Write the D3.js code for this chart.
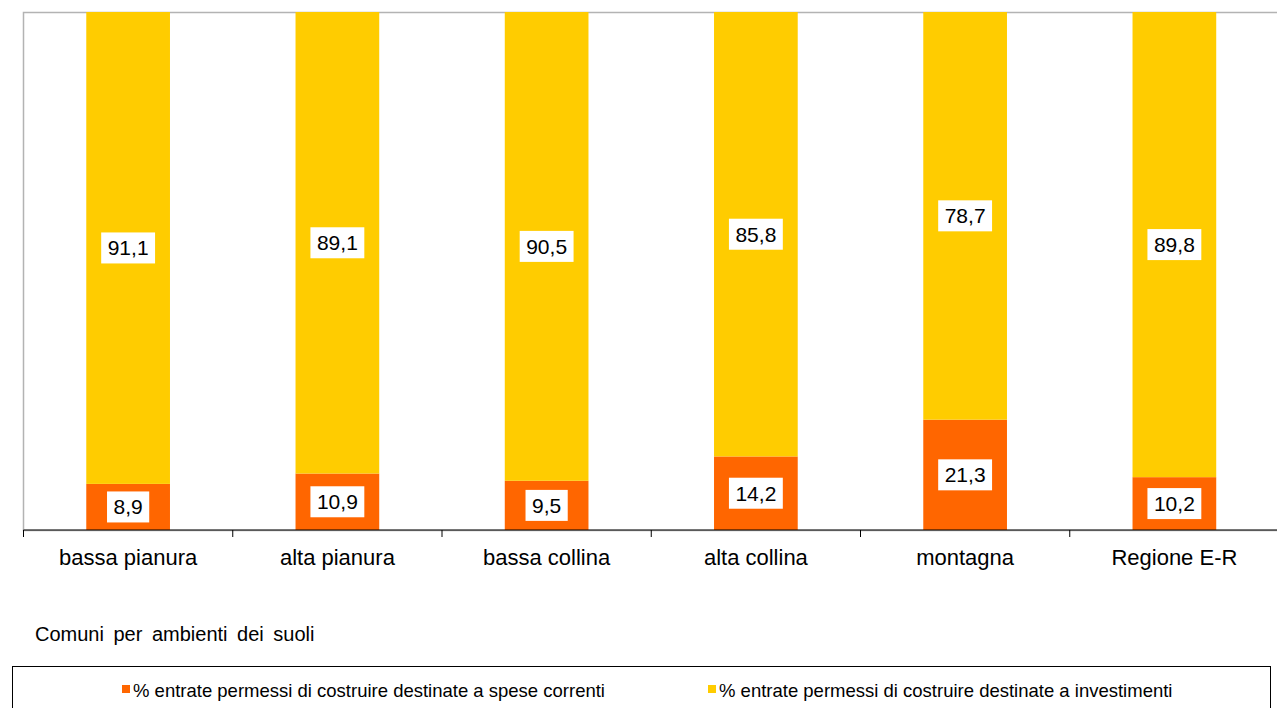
<!DOCTYPE html>
<html><head><meta charset="utf-8">
<script src="https://cdn.jsdelivr.net/npm/d3@7"></script>
<style>html,body{margin:0;padding:0;background:#fff;overflow:hidden}</style>
</head><body>
<svg id="c" width="1277" height="708"></svg>
<script>
const categories = ["bassa pianura","alta pianura","bassa collina","alta collina","montagna","Regione E-R"];
const speseCorrenti = [8.9, 10.9, 9.5, 14.2, 21.3, 10.2];
const investimenti = [91.1, 89.1, 90.5, 85.8, 78.7, 89.8];
const seriesNames = ["% entrate permessi di costruire destinate a spese correnti","% entrate permessi di costruire destinate a investimenti"];
const colors = ["#FF6600","#FFCC00"];
const xTitle = "Comuni per ambienti dei suoli";

(function(){
const svg = d3.select("#c");
const font = "Liberation Sans, Arial, sans-serif";
const pLeft = 23.5, pRight = 1279, pTop = 12, pBottom = 530;

const x = d3.scaleBand().domain(categories).range([pLeft, pRight]).padding(0);
const y = d3.scaleLinear().domain([0, 100]).range([pBottom, pTop]);
const bw = x.bandwidth() * 0.40;

// plot border
svg.append("rect").attr("x", pLeft).attr("y", pTop + 0.5).attr("width", pRight - pLeft).attr("height", pBottom - pTop)
  .attr("fill", "none").attr("stroke", "#b3b3b3").attr("stroke-width", 1.5);

const rows = categories.map((c, i) => ({cat: c, s0: speseCorrenti[i], s1: investimenti[i]}));
const stack = d3.stack().keys(["s0", "s1"])(rows);

const g = svg.append("g");
stack.forEach((layer, li) => {
  g.selectAll(null).data(layer).enter().append("rect")
    .attr("x", d => x(d.data.cat) + (x.bandwidth() - bw) / 2)
    .attr("width", bw)
    .attr("y", d => y(d[1]))
    .attr("height", d => y(d[0]) - y(d[1]))
    .attr("fill", colors[li]);
});

// axis
const axis = svg.append("g").attr("transform", `translate(0,${pBottom})`)
  .call(d3.axisBottom(x).tickSize(0).tickPadding(19));
axis.select(".domain").attr("stroke", "#000").attr("stroke-width", 1.2).attr("d", `M${pLeft},0H${pRight}`);
axis.selectAll("text").attr("font-family", font).attr("font-size", 22).attr("fill", "#000");
const bounds = categories.map(c => x(c)).concat([pRight]);
axis.selectAll(".bt").data(bounds).enter().append("line").attr("class", "bt")
  .attr("x1", d => d).attr("x2", d => d).attr("y1", 0).attr("y2", 7)
  .attr("stroke", "#000").attr("stroke-width", 1);

// value labels
stack.forEach((layer) => {
  layer.forEach(d => {
    const cx = x(d.data.cat) + x.bandwidth() / 2;
    const cy = (y(d[0]) + y(d[1])) / 2;
    const txt = d3.format(".1f")(d[1] - d[0]).replace(".", ",");
    const lg = svg.append("g");
    const t = lg.append("text").attr("x", cx).attr("y", cy).attr("text-anchor", "middle")
      .attr("dominant-baseline", "central").attr("font-family", font).attr("font-size", 21).attr("fill", "#000").text(txt);
    const bb = t.node().getBBox();
    lg.insert("rect", "text").attr("x", cx - bb.width / 2 - 6.5).attr("y", cy - 15.5)
      .attr("width", bb.width + 13).attr("height", 31).attr("fill", "#fff");
  });
});

// axis title
svg.append("text").attr("x", 35).attr("y", 641).attr("font-family", font).attr("font-size", 20)
  .attr("word-spacing", 4).attr("fill", "#000").text(xTitle);

// legend
svg.append("rect").attr("x", 12.5).attr("y", 666.5).attr("width", 1258).attr("height", 60)
  .attr("fill", "#fff").attr("stroke", "#000").attr("stroke-width", 1);
const legX = [122, 708];
seriesNames.forEach((n, i) => {
  svg.append("rect").attr("x", legX[i]).attr("y", 685).attr("width", 8).attr("height", 8).attr("fill", colors[i]);
  svg.append("text").attr("x", legX[i] + 11).attr("y", 697).attr("font-family", font).attr("font-size", 18.5)
    .attr("fill", "#000").text(n);
});
})();
</script>
</body></html>
